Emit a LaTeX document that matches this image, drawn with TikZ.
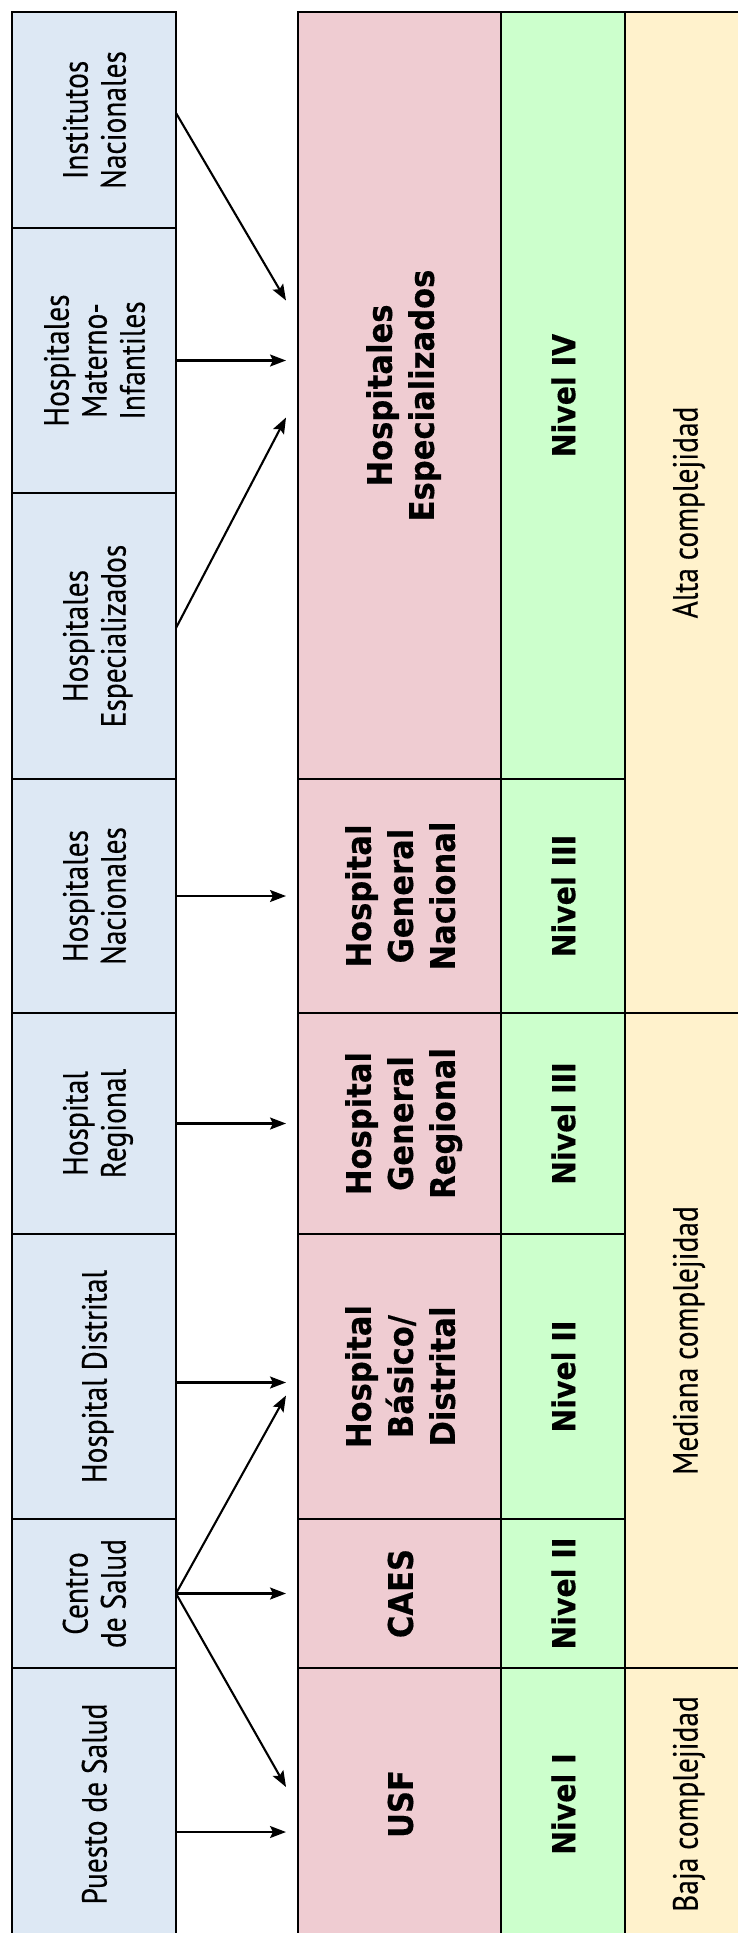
\documentclass[tikz,border=0pt]{standalone}
\usepackage{fontspec}
\usepackage{graphicx}
\setmainfont[FakeStretch=0.84,FakeBold=0.3]{PT Sans}
\newfontfamily\boldfam[FakeStretch=0.9,FakeBold=0.4]{DejaVu Sans}
\usetikzlibrary{arrows.meta}

\definecolor{blueFill}{HTML}{DDE8F4}
\definecolor{pinkFill}{HTML}{EFCCD2}
\definecolor{greenFill}{HTML}{CCFFCC}
\definecolor{yellowFill}{HTML}{FFF2CC}

\newcommand{\vtext}[1]{\rotatebox{90}{\raisebox{-5pt}[\height][\depth]{\begin{tabular}{@{}c@{}}#1\end{tabular}}}}

\begin{document}
\begin{tikzpicture}[x=1pt, y=-1pt,
    cell/.style={draw, line width=1.7pt, inner sep=0pt, outer sep=0pt},
    lbox/.style={cell, fill=blueFill, minimum width=164pt, font=\fontsize{35}{38}\selectfont},
    hbox/.style={cell, fill=pinkFill, minimum width=203pt, font=\boldfam\bfseries\fontsize{34}{42}\selectfont},
    nbox/.style={cell, fill=greenFill, minimum width=124pt, font=\boldfam\bfseries\fontsize{31.5}{36}\selectfont},
    cbox/.style={cell, fill=yellowFill, minimum width=120pt, font=\fontsize{35}{38}\selectfont},
    arrow/.style={->, >={Stealth[length=16pt,width=12pt,inset=3pt]}, line width=2.1pt}
]
\useasboundingbox (0,0) rectangle (738,1933);

% Left column: establishments
\node[lbox, minimum height=216pt] (inst) at (94,120) {\vtext{Institutos\\Nacionales}};
\node[lbox, minimum height=265pt] (mat) at (94,360.5) {\vtext{Hospitales\\Materno-\\Infantiles}};
\node[lbox, minimum height=286pt] (esp) at (94,636) {\vtext{Hospitales\\Especializados}};
\node[lbox, minimum height=234pt] (nac) at (94,896) {\vtext{Hospitales\\Nacionales}};
\node[lbox, minimum height=221pt] (reg) at (94,1123.5) {\vtext{Hospital\\Regional}};
\node[lbox, minimum height=285pt] (dis) at (94,1376.5) {\vtext{Hospital Distrital}};
\node[lbox, minimum height=149pt] (cen) at (94,1593.5) {\vtext{Centro\\de Salud}};
\node[lbox, minimum height=272pt] (pue) at (94,1804) {\vtext{Puesto de Salud}};

% Hospital types
\node[hbox, minimum height=767pt] (hesp) at (399.5,395.5) {\vtext{Hospitales\\Especializados}};
\node[hbox, minimum height=234pt] (hgn) at (399.5,896) {\vtext{Hospital\\General\\Nacional}};
\node[hbox, minimum height=221pt] (hgr) at (399.5,1123.5) {\vtext{Hospital\\General\\Regional}};
\node[hbox, minimum height=285pt] (hbd) at (399.5,1376.5) {\vtext{Hospital\\Básico/\\Distrital}};
\node[hbox, minimum height=149pt] (caes) at (399.5,1593.5) {\vtext{CAES}};
\node[hbox, minimum height=272pt] (usf) at (399.5,1804) {\vtext{USF}};

% Levels
\node[nbox, minimum height=767pt] (n4) at (563,395.5) {\vtext{Nivel IV}};
\node[nbox, minimum height=234pt] (n3a) at (563,896) {\vtext{Nivel III}};
\node[nbox, minimum height=221pt] (n3b) at (563,1123.5) {\vtext{Nivel III}};
\node[nbox, minimum height=285pt] (n2a) at (563,1376.5) {\vtext{Nivel II}};
\node[nbox, minimum height=149pt] (n2b) at (563,1593.5) {\vtext{Nivel II}};
\node[nbox, minimum height=272pt] (n1) at (563,1804) {\vtext{Nivel I}};

% Complexity
\node[cbox, minimum height=1001pt] (alta) at (685,512.5) {\vtext{Alta complejidad}};
\node[cbox, minimum height=655pt] (mediana) at (685,1340.5) {\vtext{Mediana complejidad}};
\node[cbox, minimum height=272pt] (baja) at (685,1804) {\vtext{Baja complejidad}};

% Arrows
\draw[arrow] ([yshift=7pt]inst.east) -- ([xshift=-12pt,yshift=95pt]hesp.west);
\draw[arrow, shorten >=12pt] (mat.east) -- (mat.east -| hesp.west);
\draw[arrow] ([yshift=8pt]esp.east) -- ([xshift=-12pt,yshift=-22pt]hesp.west);
\draw[arrow, shorten >=12pt] (nac.east) -- (hgn.west);
\draw[arrow, shorten >=12pt] (reg.east) -- (hgr.west);
\draw[arrow, shorten >=12pt] ([yshift=-6pt]dis.east) -- ([yshift=-6pt]hbd.west);
\draw[arrow] (cen.east) -- ([xshift=-12pt,yshift=-19pt]hbd.west);
\draw[arrow, shorten >=12pt] (cen.east) -- (caes.west);
\draw[arrow] (cen.east) -- ([xshift=-12pt,yshift=17pt]usf.west);
\draw[arrow, shorten >=12pt] ([yshift=-28pt]pue.east) -- ([yshift=-28pt]usf.west);

\end{tikzpicture}
\end{document}
